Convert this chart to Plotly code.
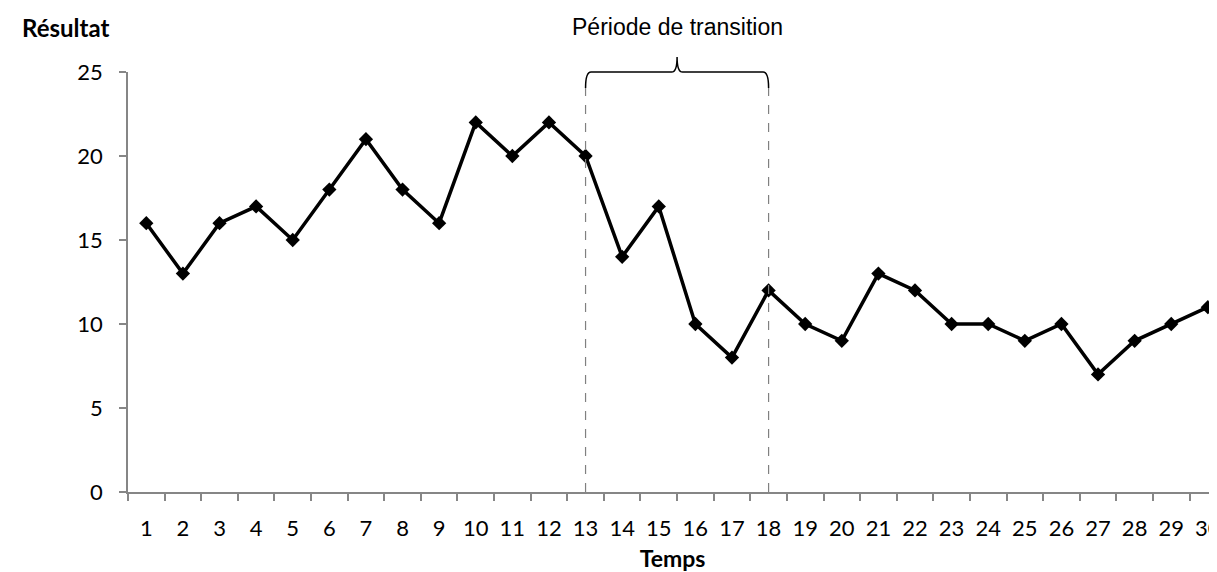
import plotly.graph_objects as go

temps = list(range(1, 31))
resultat = [16, 13, 16, 17, 15, 18, 21, 18, 16, 22, 20, 22, 20, 14, 17,
            10, 8, 12, 10, 9, 13, 12, 10, 10, 9, 10, 7, 9, 10, 11]
y_ticks = [0, 5, 10, 15, 20, 25]
transition_start = 13
transition_end = 18
transition_label = "Période de transition"

FONT = "Lato, 'Noto Sans', sans-serif"
AXIS_GREY = "#868686"

# the page body has an 8px default margin; size the figure so it fills the window
PAGE_OFFSET = 8
W, H = 1217 - PAGE_OFFSET, 572 - PAGE_OFFSET

fig = go.Figure()
fig.add_trace(go.Scatter(
    x=temps, y=resultat, mode="lines+markers",
    line=dict(color="black", width=3.5),
    marker=dict(symbol="diamond", size=11, color="black"),
    cliponaxis=False, showlegend=False,
))

# dashed vertical lines delimiting the transition period
brace_low = 0.962
brace_mid = 1.0
brace_tip = 1.036
for xv in (transition_start, transition_end):
    fig.add_shape(type="line", xref="x", yref="paper",
                  x0=xv, x1=xv, y0=0, y1=brace_low,
                  line=dict(color="#808080", width=1.2, dash="dash"))

mid = (transition_start + transition_end) / 2
c = 0.15
path = (f"M {transition_start},{brace_low} "
        f"Q {transition_start},{brace_mid} {transition_start + c},{brace_mid} "
        f"L {mid - c},{brace_mid} "
        f"Q {mid},{brace_mid} {mid},{brace_tip} "
        f"Q {mid},{brace_mid} {mid + c},{brace_mid} "
        f"L {transition_end - c},{brace_mid} "
        f"Q {transition_end},{brace_mid} {transition_end},{brace_low}")
fig.add_shape(type="path", xref="x", yref="paper", path=path,
              line=dict(color="black", width=1.5))

fig.add_annotation(x=mid, xref="x", y=1.107, yref="paper", yanchor="middle",
                   text=transition_label, showarrow=False,
                   font=dict(family="'Liberation Sans', Arial, sans-serif", size=23, color="black"))

fig.add_annotation(x=-0.0995, xref="paper", y=1.107, yref="paper",
                   xanchor="left", yanchor="middle",
                   text="<b>Résultat</b>", showarrow=False,
                   font=dict(family=FONT, size=24, color="black"))

fig.update_layout(
    width=W, height=H,
    margin=dict(l=128 - PAGE_OFFSET, r=0, t=72 - PAGE_OFFSET, b=80),
    plot_bgcolor="white", paper_bgcolor="white",
    font=dict(family=FONT, size=22, color="black"),
    xaxis=dict(
        range=[0.5, 30.25], tickvals=temps, ticktext=[str(t) for t in temps],
        ticks="", showgrid=False, zeroline=False, automargin=False,
        showline=True, linecolor=AXIS_GREY, linewidth=1.5,
        ticklabelstandoff=16, ticklabeloverflow="allow",
        minor=dict(tick0=0.5, dtick=1, ticks="outside", ticklen=7,
                   tickcolor=AXIS_GREY, tickwidth=1.5, showgrid=False),
        title=dict(text="<b>Temps</b>", standoff=13, font=dict(size=23)),
    ),
    yaxis=dict(
        range=[0, 25], tickvals=y_ticks, ticks="outside", ticklen=7,
        tickcolor=AXIS_GREY, tickwidth=1.5, showgrid=False, zeroline=False,
        showline=True, linecolor=AXIS_GREY, linewidth=1.5, automargin=False,
        ticklabelstandoff=12,
    ),
)

fig.write_html("out.html")
